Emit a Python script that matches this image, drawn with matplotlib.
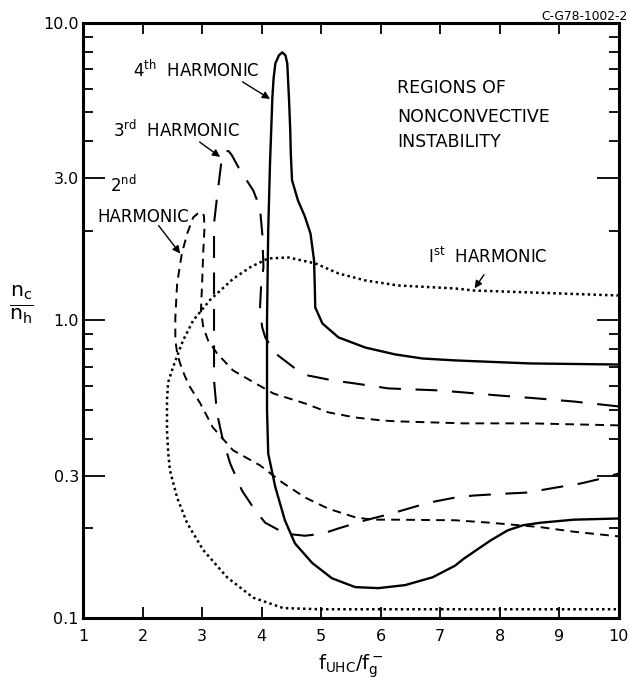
import matplotlib
matplotlib.use("Agg")
from matplotlib import pyplot as plt

# 1st harmonic (dotted)
h1_x = [10.0, 7.56, 7.25, 6.29, 5.74, 5.29, 4.90, 4.45, 4.11, 3.81, 3.52, 3.13, 2.85, 2.68, 2.51,
        2.43, 2.41, 2.41, 2.43, 2.46, 2.58, 2.75, 3.02, 3.42, 3.86, 4.36, 4.98, 10.0]
h1_y = [1.213, 1.261, 1.281, 1.311, 1.363, 1.439, 1.555, 1.628, 1.616, 1.51, 1.38, 1.17, 1.0, 0.857,
        0.695, 0.62, 0.54, 0.427, 0.36, 0.313, 0.254, 0.208, 0.169, 0.137, 0.117, 0.108, 0.107, 0.107]

# 2nd harmonic (short dashes)
h2_x = [10.0, 8.51, 7.39, 6.28, 6.03, 5.57, 5.12, 4.73, 4.20, 3.90, 3.52, 3.25, 3.10, 3.02, 2.98,
        3.00, 3.02, 3.04, 3.03, 3.00, 2.93, 2.85, 2.75, 2.66, 2.58, 2.55, 2.55, 2.58, 2.63, 2.71,
        2.80, 2.97, 3.18, 3.52, 3.97, 4.35, 4.73, 5.12, 5.57, 5.86, 6.24, 7.25, 7.84, 8.68, 9.24,
        10.0]
h2_y = [0.444, 0.451, 0.451, 0.458, 0.461, 0.472, 0.491, 0.526, 0.568, 0.614, 0.679, 0.775, 0.857,
        0.947, 1.08, 1.33, 1.72, 2.05, 2.25, 2.31, 2.29, 2.22, 1.96, 1.68, 1.33, 1.02, 0.857,
        0.78, 0.717, 0.65, 0.596, 0.526, 0.437, 0.366, 0.326, 0.285, 0.254, 0.233, 0.218, 0.214,
        0.214, 0.213, 0.209, 0.202, 0.195, 0.188]

# 3rd harmonic (long dashes)
h3_x = [10.0, 9.24, 8.63, 7.96, 7.39, 6.97, 6.13, 5.57, 5.19, 4.78, 4.56, 4.23, 4.06, 4.01, 3.97,
        3.99, 4.03, 4.01, 3.97, 3.86, 3.61, 3.50, 3.45, 3.40, 3.36, 3.32, 3.25, 3.20, 3.20, 3.20,
        3.25, 3.34, 3.47, 3.67, 3.89, 4.06, 4.40, 4.73, 5.02, 5.29, 5.74, 6.13, 6.46, 6.80, 7.25,
        7.56, 8.13, 8.46, 8.97, 9.35, 9.64, 10.0]
h3_y = [0.514, 0.534, 0.547, 0.560, 0.573, 0.582, 0.591, 0.614, 0.629, 0.653, 0.690, 0.775, 0.877,
        0.947, 1.08, 1.30, 1.51, 1.96, 2.40, 2.73, 3.27, 3.59, 3.70, 3.72, 3.62, 3.37, 2.59, 2.12,
        1.17, 0.629, 0.487, 0.404, 0.331, 0.268, 0.230, 0.209, 0.192, 0.189, 0.192, 0.200,
        0.213, 0.223, 0.233, 0.244, 0.254, 0.258, 0.262, 0.264, 0.275, 0.283, 0.292, 0.306]

# 4th harmonic (solid)
h4_x = [10.0, 8.51, 7.25, 6.70, 6.24, 5.74, 5.29, 5.02, 4.90, 4.89, 4.88, 4.82, 4.72, 4.61, 4.51,
        4.49, 4.48, 4.46, 4.43, 4.40, 4.345, 4.29, 4.23, 4.20, 4.18, 4.16, 4.14, 4.11, 4.09, 4.09,
        4.11, 4.23, 4.39, 4.56, 4.85, 5.18, 5.57, 5.96, 6.41, 6.87, 7.25, 7.39, 7.84, 8.13, 8.39,
        8.68, 9.24, 10.0]
h4_y = [0.711, 0.717, 0.734, 0.745, 0.769, 0.811, 0.877, 0.977, 1.106, 1.35, 1.59, 1.96, 2.25,
        2.53, 2.96, 3.6, 4.35, 5.5, 7.31, 7.78, 7.96, 7.78, 7.31, 6.5, 5.62, 4.35, 3.37, 2.01,
        1.0, 0.5, 0.357, 0.275, 0.213, 0.178, 0.153, 0.136, 0.127, 0.126, 0.129, 0.137, 0.150,
        0.158, 0.182, 0.197, 0.205, 0.209, 0.214, 0.216]

x_ticks = [1, 2, 3, 4, 5, 6, 7, 8, 9, 10]
y_major = [0.1, 0.3, 1.0, 3.0, 10.0]
y_major_labels = ["0.1", "0.3", "1.0", "3.0", "10.0"]
y_minor = [0.2, 0.4, 0.5, 0.6, 0.7, 0.8, 0.9, 2, 4, 5, 6, 7, 8, 9]

fig = plt.figure(figsize=(6.29, 6.84), dpi=100)
ax = fig.add_axes([0.132, 0.0965, 0.852, 0.870])

ax.plot(h1_x, h1_y, color="black", lw=1.8, linestyle=(0, (1, 1.3)))
ax.plot(h2_x, h2_y, color="black", lw=1.4, linestyle=(0, (4.5, 3.2)))
ax.plot(h3_x, h3_y, color="black", lw=1.5, linestyle=(0, (10.5, 7)))
ax.plot(h4_x, h4_y, color="black", lw=1.7)

ax.set_yscale("log")
ax.set_xlim(1, 10)
ax.set_ylim(0.1, 10)
ax.set_xticks(x_ticks)
ax.set_xticklabels([str(t) for t in x_ticks])
ax.set_yticks(y_major)
ax.set_yticklabels(y_major_labels)
ax.set_yticks(y_minor, minor=True)
ax.set_xticks([], minor=True)
ax.yaxis.set_minor_formatter(plt.NullFormatter())

ax.tick_params(which="both", direction="in", top=True, right=True, width=1.3, labelsize=11.5)
ax.tick_params(axis="x", which="major", length=8, pad=8)
ax.tick_params(axis="y", which="major", length=16, pad=3)
ax.tick_params(axis="y", which="minor", length=7)
for s in ax.spines.values():
    s.set_linewidth(2.2)

ax.set_xlabel(r"$\mathrm{f_{UHC}/f_g^-}$", fontsize=14, labelpad=6)
ax.set_ylabel(r"$\frac{\mathrm{n_c}}{\mathrm{n_h}}$", fontsize=21, rotation=0)
ax.yaxis.set_label_coords(-0.115, 0.49)

fs = 12
ax.text(1.84, 6.92, r"$\mathregular{4^{th}}$  HARMONIC", fontsize=fs, va="center")
ax.text(1.50, 4.35, r"$\mathregular{3^{rd}}$  HARMONIC", fontsize=fs, va="center")
ax.text(1.45, 2.85, r"$\mathregular{2^{nd}}$", fontsize=fs, va="center")
ax.text(1.235, 2.22, "HARMONIC", fontsize=fs, va="center")
ax.text(6.80, 1.63, r"$\mathregular{I^{st}}$  HARMONIC", fontsize=fs, va="center")
ax.text(6.28, 6.02, "REGIONS OF", fontsize=12.5, va="center")
ax.text(6.28, 4.81, "NONCONVECTIVE", fontsize=12.5, va="center")
ax.text(6.28, 3.97, "INSTABILITY", fontsize=12.5, va="center")

arrow = dict(arrowstyle="-|>", color="black", lw=1.0, mutation_scale=11)
ax.annotate("", xy=(4.18, 5.49), xytext=(3.64, 6.41), arrowprops=arrow)
ax.annotate("", xy=(3.34, 3.50), xytext=(2.92, 4.03), arrowprops=arrow)
ax.annotate("", xy=(2.66, 1.65), xytext=(2.24, 2.12), arrowprops=arrow)
ax.annotate("", xy=(7.55, 1.26), xytext=(7.76, 1.45), arrowprops=arrow)

fig.text(0.998, 1 - 17 / 684, "C-G78-1002-2", fontsize=8.8, ha="right", va="center")

plt.savefig("out.png", dpi=100)
